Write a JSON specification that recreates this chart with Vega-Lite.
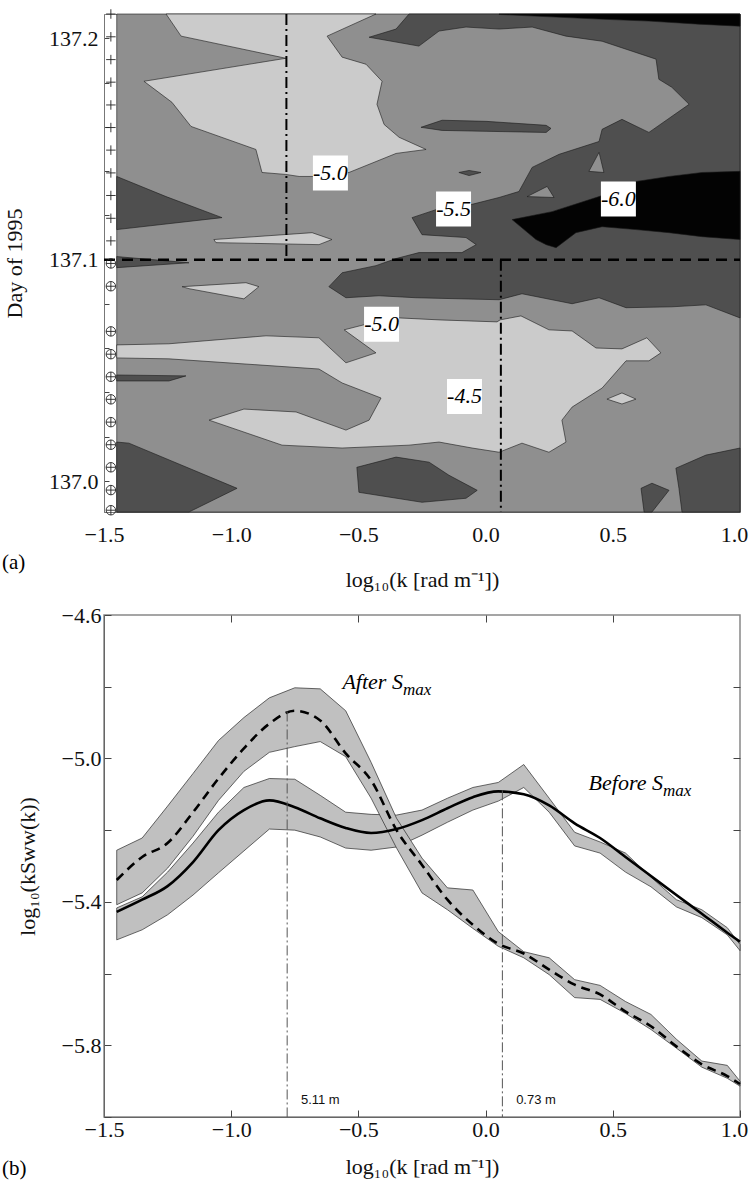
{
  "$schema": "https://vega.github.io/schema/vega-lite/v6.json",
  "padding": {"left": 1, "top": 6, "right": 0, "bottom": 0},
  "background": "white",
  "bounds": "flush",
  "spacing": 103,
  "config": {
    "font": "Liberation Serif",
    "view": {"stroke": null},
    "axis": {
      "labelFont": "Liberation Serif", "titleFont": "Liberation Serif",
      "labelFontSize": 22, "titleFontSize": 22, "labelColor": "#111", "titleColor": "#111",
      "titleFontWeight": "normal", "grid": false, "domainColor": "#666", "tickColor": "#444",
      "labelFlush": false, "labelOverlap": false
    }
  },
  "datasets": {
    "poly": [
      {"p":"B0","l":"base","i":0,"k":-1.45,"d":137.211},{"p":"B0","l":"base","i":1,"k":1.0,"d":137.211},{"p":"B0","l":"base","i":2,"k":1.0,"d":136.986},{"p":"B0","l":"base","i":3,"k":-1.45,"d":136.986},{"p":"B0","l":"base","i":4,"k":-1.45,"d":137.211},

      {"p":"D1","l":"dark","i":0,"k":-0.458,"d":137.2005},{"p":"D1","l":"dark","i":1,"k":-0.352,"d":137.2042},{"p":"D1","l":"dark","i":2,"k":-0.301,"d":137.211},{"p":"D1","l":"dark","i":3,"k":1.0,"d":137.211},{"p":"D1","l":"dark","i":4,"k":1.0,"d":137.0737},{"p":"D1","l":"dark","i":5,"k":0.866,"d":137.0796},{"p":"D1","l":"dark","i":6,"k":0.732,"d":137.0787},{"p":"D1","l":"dark","i":7,"k":0.552,"d":137.0783},{"p":"D1","l":"dark","i":8,"k":0.446,"d":137.0828},{"p":"D1","l":"dark","i":9,"k":0.340,"d":137.0801},{"p":"D1","l":"dark","i":10,"k":0.143,"d":137.0846},{"p":"D1","l":"dark","i":11,"k":0.053,"d":137.0819},{"p":"D1","l":"dark","i":12,"k":-0.274,"d":137.0828},{"p":"D1","l":"dark","i":13,"k":-0.419,"d":137.0837},{"p":"D1","l":"dark","i":14,"k":-0.549,"d":137.0828},{"p":"D1","l":"dark","i":15,"k":-0.616,"d":137.0878},{"p":"D1","l":"dark","i":16,"k":-0.564,"d":137.0941},{"p":"D1","l":"dark","i":17,"k":-0.431,"d":137.0973},{"p":"D1","l":"dark","i":18,"k":-0.352,"d":137.1005},{"p":"D1","l":"dark","i":19,"k":-0.262,"d":137.1032},{"p":"D1","l":"dark","i":20,"k":-0.093,"d":137.1032},{"p":"D1","l":"dark","i":21,"k":-0.037,"d":137.1068},{"p":"D1","l":"dark","i":22,"k":-0.077,"d":137.1100},{"p":"D1","l":"dark","i":23,"k":-0.250,"d":137.1113},{"p":"D1","l":"dark","i":24,"k":-0.289,"d":137.1190},{"p":"D1","l":"dark","i":25,"k":-0.195,"d":137.1226},{"p":"D1","l":"dark","i":26,"k":-0.057,"d":137.1249},{"p":"D1","l":"dark","i":27,"k":0.053,"d":137.1281},{"p":"D1","l":"dark","i":28,"k":0.131,"d":137.1308},{"p":"D1","l":"dark","i":29,"k":0.183,"d":137.1417},{"p":"D1","l":"dark","i":30,"k":0.289,"d":137.1476},{"p":"D1","l":"dark","i":31,"k":0.446,"d":137.1534},{"p":"D1","l":"dark","i":32,"k":0.458,"d":137.1589},{"p":"D1","l":"dark","i":33,"k":0.536,"d":137.1634},{"p":"D1","l":"dark","i":34,"k":0.642,"d":137.1575},{"p":"D1","l":"dark","i":35,"k":0.800,"d":137.1702},{"p":"D1","l":"dark","i":36,"k":0.732,"d":137.1779},{"p":"D1","l":"dark","i":37,"k":0.681,"d":137.1815},{"p":"D1","l":"dark","i":38,"k":0.670,"d":137.1906},{"p":"D1","l":"dark","i":39,"k":0.458,"d":137.1987},{"p":"D1","l":"dark","i":40,"k":0.316,"d":137.2010},{"p":"D1","l":"dark","i":41,"k":0.183,"d":137.2051},{"p":"D1","l":"dark","i":42,"k":0.053,"d":137.2042},{"p":"D1","l":"dark","i":43,"k":-0.077,"d":137.2051},{"p":"D1","l":"dark","i":44,"k":-0.183,"d":137.2033},{"p":"D1","l":"dark","i":45,"k":-0.262,"d":137.1965},{"p":"D1","l":"dark","i":46,"k":-0.458,"d":137.2005},

      {"p":"DS","l":"dark","i":0,"k":-0.254,"d":137.1598},{"p":"DS","l":"dark","i":1,"k":-0.171,"d":137.1630},{"p":"DS","l":"dark","i":2,"k":0.002,"d":137.1625},{"p":"DS","l":"dark","i":3,"k":0.238,"d":137.1607},{"p":"DS","l":"dark","i":4,"k":0.257,"d":137.1593},{"p":"DS","l":"dark","i":5,"k":0.238,"d":137.1575},{"p":"DS","l":"dark","i":6,"k":0.002,"d":137.1580},{"p":"DS","l":"dark","i":7,"k":-0.171,"d":137.1584},{"p":"DS","l":"dark","i":8,"k":-0.254,"d":137.1598},

      {"p":"DD","l":"dark","i":0,"k":-0.105,"d":137.1394},{"p":"DD","l":"dark","i":1,"k":-0.065,"d":137.1403},{"p":"DD","l":"dark","i":2,"k":-0.018,"d":137.1394},{"p":"DD","l":"dark","i":3,"k":-0.065,"d":137.1380},{"p":"DD","l":"dark","i":4,"k":-0.105,"d":137.1394},

      {"p":"W1","l":"dark","i":0,"k":-1.45,"d":137.1376},{"p":"W1","l":"dark","i":1,"k":-1.256,"d":137.1285},{"p":"W1","l":"dark","i":2,"k":-1.036,"d":137.1190},{"p":"W1","l":"dark","i":3,"k":-1.45,"d":137.1136},{"p":"W1","l":"dark","i":4,"k":-1.45,"d":137.1376},

      {"p":"S1","l":"dark","i":0,"k":-1.45,"d":137.1014},{"p":"S1","l":"dark","i":1,"k":-1.166,"d":137.0986},{"p":"S1","l":"dark","i":2,"k":-1.45,"d":137.0964},{"p":"S1","l":"dark","i":3,"k":-1.45,"d":137.1014},

      {"p":"S2","l":"dark","i":0,"k":-1.45,"d":137.0479},{"p":"S2","l":"dark","i":1,"k":-1.178,"d":137.0475},{"p":"S2","l":"dark","i":2,"k":-1.245,"d":137.0452},{"p":"S2","l":"dark","i":3,"k":-1.45,"d":137.0452},{"p":"S2","l":"dark","i":4,"k":-1.45,"d":137.0479},

      {"p":"DBL","l":"dark","i":0,"k":-1.45,"d":137.0176},{"p":"DBL","l":"dark","i":1,"k":-1.402,"d":137.0171},{"p":"DBL","l":"dark","i":2,"k":-0.977,"d":136.9967},{"p":"DBL","l":"dark","i":3,"k":-1.166,"d":136.986},{"p":"DBL","l":"dark","i":4,"k":-1.45,"d":136.986},{"p":"DBL","l":"dark","i":5,"k":-1.45,"d":137.0176},

      {"p":"DB","l":"dark","i":0,"k":-0.506,"d":137.0062},{"p":"DB","l":"dark","i":1,"k":-0.352,"d":137.0108},{"p":"DB","l":"dark","i":2,"k":-0.222,"d":137.0085},{"p":"DB","l":"dark","i":3,"k":-0.144,"d":137.0026},{"p":"DB","l":"dark","i":4,"k":-0.033,"d":136.9958},{"p":"DB","l":"dark","i":5,"k":-0.077,"d":136.9922},{"p":"DB","l":"dark","i":6,"k":-0.250,"d":136.9904},{"p":"DB","l":"dark","i":7,"k":-0.498,"d":136.9949},{"p":"DB","l":"dark","i":8,"k":-0.506,"d":137.0062},

      {"p":"DBR","l":"dark","i":0,"k":0.748,"d":137.0058},{"p":"DBR","l":"dark","i":1,"k":0.866,"d":137.0117},{"p":"DBR","l":"dark","i":2,"k":1.0,"d":137.0149},{"p":"DBR","l":"dark","i":3,"k":1.0,"d":136.986},{"p":"DBR","l":"dark","i":4,"k":0.772,"d":136.986},{"p":"DBR","l":"dark","i":5,"k":0.760,"d":136.9967},{"p":"DBR","l":"dark","i":6,"k":0.748,"d":137.0058},

      {"p":"DST","l":"dark","i":0,"k":0.611,"d":136.9967},{"p":"DST","l":"dark","i":1,"k":0.654,"d":136.9990},{"p":"DST","l":"dark","i":2,"k":0.721,"d":136.9958},{"p":"DST","l":"dark","i":3,"k":0.654,"d":136.986},{"p":"DST","l":"dark","i":4,"k":0.623,"d":136.986},{"p":"DST","l":"dark","i":5,"k":0.611,"d":136.9967},

      {"p":"K1","l":"black","i":0,"k":0.053,"d":137.211},{"p":"K1","l":"black","i":1,"k":1.0,"d":137.211},{"p":"K1","l":"black","i":2,"k":1.0,"d":137.2055},{"p":"K1","l":"black","i":3,"k":0.839,"d":137.2064},{"p":"K1","l":"black","i":4,"k":0.642,"d":137.2078},{"p":"K1","l":"black","i":5,"k":0.446,"d":137.2087},{"p":"K1","l":"black","i":6,"k":0.053,"d":137.2108},{"p":"K1","l":"black","i":7,"k":0.053,"d":137.211},

      {"p":"K2","l":"black","i":0,"k":0.104,"d":137.1181},{"p":"K2","l":"black","i":1,"k":0.261,"d":137.1217},{"p":"K2","l":"black","i":2,"k":0.446,"d":137.1285},{"p":"K2","l":"black","i":3,"k":0.591,"d":137.1353},{"p":"K2","l":"black","i":4,"k":0.721,"d":137.1376},{"p":"K2","l":"black","i":5,"k":0.851,"d":137.1394},{"p":"K2","l":"black","i":6,"k":1.0,"d":137.1399},{"p":"K2","l":"black","i":7,"k":1.0,"d":137.1091},{"p":"K2","l":"black","i":8,"k":0.851,"d":137.1104},{"p":"K2","l":"black","i":9,"k":0.721,"d":137.1122},{"p":"K2","l":"black","i":10,"k":0.591,"d":137.1136},{"p":"K2","l":"black","i":11,"k":0.458,"d":137.1149},{"p":"K2","l":"black","i":12,"k":0.355,"d":137.1122},{"p":"K2","l":"black","i":13,"k":0.277,"d":137.1054},{"p":"K2","l":"black","i":14,"k":0.238,"d":137.1068},{"p":"K2","l":"black","i":15,"k":0.198,"d":137.1091},{"p":"K2","l":"black","i":16,"k":0.104,"d":137.1181},

      {"p":"T1","l":"midp","i":0,"k":0.406,"d":137.1399},{"p":"T1","l":"midp","i":1,"k":0.446,"d":137.1485},{"p":"T1","l":"midp","i":2,"k":0.465,"d":137.1394},{"p":"T1","l":"midp","i":3,"k":0.406,"d":137.1399},
      {"p":"T2","l":"midp","i":0,"k":0.163,"d":137.1285},{"p":"T2","l":"midp","i":1,"k":0.242,"d":137.1331},{"p":"T2","l":"midp","i":2,"k":0.269,"d":137.1281},{"p":"T2","l":"midp","i":3,"k":0.163,"d":137.1285},

      {"p":"L1","l":"light","i":0,"k":-1.256,"d":137.211},{"p":"L1","l":"light","i":1,"k":-0.431,"d":137.211},{"p":"L1","l":"light","i":2,"k":-0.623,"d":137.2010},{"p":"L1","l":"light","i":3,"k":-0.564,"d":137.1915},{"p":"L1","l":"light","i":4,"k":-0.470,"d":137.1883},{"p":"L1","l":"light","i":5,"k":-0.407,"d":137.1806},{"p":"L1","l":"light","i":6,"k":-0.427,"d":137.1702},{"p":"L1","l":"light","i":7,"k":-0.399,"d":137.1611},{"p":"L1","l":"light","i":8,"k":-0.340,"d":137.1553},{"p":"L1","l":"light","i":9,"k":-0.234,"d":137.1498},{"p":"L1","l":"light","i":10,"k":-0.352,"d":137.1480},{"p":"L1","l":"light","i":11,"k":-0.537,"d":137.1394},{"p":"L1","l":"light","i":12,"k":-0.674,"d":137.1376},{"p":"L1","l":"light","i":13,"k":-0.733,"d":137.1376},{"p":"L1","l":"light","i":14,"k":-0.785,"d":137.1385},{"p":"L1","l":"light","i":15,"k":-0.879,"d":137.1394},{"p":"L1","l":"light","i":16,"k":-0.903,"d":137.1498},{"p":"L1","l":"light","i":17,"k":-1.158,"d":137.1602},{"p":"L1","l":"light","i":18,"k":-1.233,"d":137.1711},{"p":"L1","l":"light","i":19,"k":-1.343,"d":137.1806},{"p":"L1","l":"light","i":20,"k":-0.785,"d":137.1910},{"p":"L1","l":"light","i":21,"k":-1.197,"d":137.2010},{"p":"L1","l":"light","i":22,"k":-1.256,"d":137.211},

      {"p":"LA","l":"light","i":0,"k":-1.068,"d":137.1091},{"p":"LA","l":"light","i":1,"k":-0.682,"d":137.1122},{"p":"LA","l":"light","i":2,"k":-0.604,"d":137.1091},{"p":"LA","l":"light","i":3,"k":-0.655,"d":137.1068},{"p":"LA","l":"light","i":4,"k":-1.060,"d":137.1077},{"p":"LA","l":"light","i":5,"k":-1.068,"d":137.1091},

      {"p":"LB","l":"light","i":0,"k":-1.193,"d":137.0878},{"p":"LB","l":"light","i":1,"k":-0.942,"d":137.0896},{"p":"LB","l":"light","i":2,"k":-0.891,"d":137.0878},{"p":"LB","l":"light","i":3,"k":-0.950,"d":137.0823},{"p":"LB","l":"light","i":4,"k":-1.166,"d":137.0869},{"p":"LB","l":"light","i":5,"k":-1.193,"d":137.0878},

      {"p":"L2","l":"light","i":0,"k":-1.45,"d":137.0615},{"p":"L2","l":"light","i":1,"k":-1.245,"d":137.0620},{"p":"L2","l":"light","i":2,"k":-0.863,"d":137.0656},{"p":"L2","l":"light","i":3,"k":-0.655,"d":137.0647},{"p":"L2","l":"light","i":4,"k":-0.549,"d":137.0534},{"p":"L2","l":"light","i":5,"k":-0.431,"d":137.0579},{"p":"L2","l":"light","i":6,"k":-0.556,"d":137.0683},{"p":"L2","l":"light","i":7,"k":-0.478,"d":137.0706},{"p":"L2","l":"light","i":8,"k":-0.340,"d":137.0737},{"p":"L2","l":"light","i":9,"k":-0.183,"d":137.0728},{"p":"L2","l":"light","i":10,"k":0.045,"d":137.0719},{"p":"L2","l":"light","i":11,"k":0.057,"d":137.0728},{"p":"L2","l":"light","i":12,"k":0.139,"d":137.0746},{"p":"L2","l":"light","i":13,"k":0.249,"d":137.0683},{"p":"L2","l":"light","i":14,"k":0.340,"d":137.0678},{"p":"L2","l":"light","i":15,"k":0.434,"d":137.0601},{"p":"L2","l":"light","i":16,"k":0.536,"d":137.0597},{"p":"L2","l":"light","i":17,"k":0.634,"d":137.0647},{"p":"L2","l":"light","i":18,"k":0.689,"d":137.0579},{"p":"L2","l":"light","i":19,"k":0.642,"d":137.0543},{"p":"L2","l":"light","i":20,"k":0.552,"d":137.0543},{"p":"L2","l":"light","i":21,"k":0.458,"d":137.0420},{"p":"L2","l":"light","i":22,"k":0.340,"d":137.0334},{"p":"L2","l":"light","i":23,"k":0.300,"d":137.0275},{"p":"L2","l":"light","i":24,"k":0.316,"d":137.0176},{"p":"L2","l":"light","i":25,"k":0.249,"d":137.0130},{"p":"L2","l":"light","i":26,"k":0.143,"d":137.0171},{"p":"L2","l":"light","i":27,"k":0.053,"d":137.0130},{"p":"L2","l":"light","i":28,"k":-0.053,"d":137.0149},{"p":"L2","l":"light","i":29,"k":-0.183,"d":137.0176},{"p":"L2","l":"light","i":30,"k":-0.301,"d":137.0162},{"p":"L2","l":"light","i":31,"k":-0.564,"d":137.0149},{"p":"L2","l":"light","i":32,"k":-0.800,"d":137.0162},{"p":"L2","l":"light","i":33,"k":-1.087,"d":137.0275},{"p":"L2","l":"light","i":34,"k":-0.950,"d":137.0325},{"p":"L2","l":"light","i":35,"k":-0.745,"d":137.0312},{"p":"L2","l":"light","i":36,"k":-0.549,"d":137.0230},{"p":"L2","l":"light","i":37,"k":-0.458,"d":137.0275},{"p":"L2","l":"light","i":38,"k":-0.411,"d":137.0375},{"p":"L2","l":"light","i":39,"k":-0.564,"d":137.0443},{"p":"L2","l":"light","i":40,"k":-0.655,"d":137.0506},{"p":"L2","l":"light","i":41,"k":-1.245,"d":137.0552},{"p":"L2","l":"light","i":42,"k":-1.45,"d":137.0556},{"p":"L2","l":"light","i":43,"k":-1.45,"d":137.0615},

      {"p":"LD","l":"light","i":0,"k":0.477,"d":137.0370},{"p":"LD","l":"light","i":1,"k":0.536,"d":137.0398},{"p":"LD","l":"light","i":2,"k":0.591,"d":137.0370},{"p":"LD","l":"light","i":3,"k":0.536,"d":137.0348},{"p":"LD","l":"light","i":4,"k":0.477,"d":137.0370}
    ],
    "guides": [
      {"g":"h","k1":-1.5,"k2":1.0,"d1":137.1,"d2":137.1},
      {"g":"v","k1":-0.783,"k2":-0.783,"d1":137.211,"d2":137.1},
      {"g":"v","k1":0.06,"k2":0.06,"d1":137.1,"d2":136.986}
    ],
    "samples": [
      {"d":137.2110,"m":"plus"},{"d":137.2007,"m":"plus"},{"d":137.1904,"m":"plus"},{"d":137.1802,"m":"plus"},{"d":137.1699,"m":"plus"},{"d":137.1597,"m":"plus"},{"d":137.1495,"m":"plus"},{"d":137.1392,"m":"plus"},{"d":137.1290,"m":"plus"},{"d":137.1187,"m":"plus"},{"d":137.1085,"m":"plus"},
      {"d":137.0983,"m":"oplus"},{"d":137.0880,"m":"oplus"},{"d":137.0676,"m":"oplus"},{"d":137.0573,"m":"oplus"},{"d":137.0471,"m":"oplus"},{"d":137.0369,"m":"oplus"},{"d":137.0266,"m":"oplus"},{"d":137.0164,"m":"oplus"},{"d":137.0062,"m":"oplus"},{"d":136.9959,"m":"oplus"},{"d":136.9868,"m":"oplus"}
    ],
    "clabels": [
      {"k":-0.610,"d":137.1392,"t":"-5.0"},
      {"k":-0.126,"d":137.1229,"t":"-5.5"},
      {"k":0.522,"d":137.1274,"t":"-6.0"},
      {"k":-0.409,"d":137.0708,"t":"-5.0"},
      {"k":-0.083,"d":137.0382,"t":"-4.5"}
    ],
    "spec": [
      {"k":-1.45,"a":-5.339,"alo":-5.408,"ahi":-5.256,"b":-5.428,"blo":-5.506,"bhi":-5.417},
      {"k":-1.35,"a":-5.275,"alo":-5.375,"ahi":-5.222,"b":-5.394,"blo":-5.478,"bhi":-5.386},
      {"k":-1.25,"a":-5.236,"alo":-5.306,"ahi":-5.133,"b":-5.356,"blo":-5.436,"bhi":-5.317},
      {"k":-1.15,"a":-5.150,"alo":-5.217,"ahi":-5.042,"b":-5.289,"blo":-5.381,"bhi":-5.236},
      {"k":-1.05,"a":-5.056,"alo":-5.117,"ahi":-4.950,"b":-5.200,"blo":-5.319,"bhi":-5.150},
      {"k":-0.95,"a":-4.972,"alo":-5.036,"ahi":-4.886,"b":-5.144,"blo":-5.258,"bhi":-5.081},
      {"k":-0.85,"a":-4.903,"alo":-4.983,"ahi":-4.831,"b":-5.117,"blo":-5.197,"bhi":-5.056},
      {"k":-0.75,"a":-4.867,"alo":-4.967,"ahi":-4.803,"b":-5.136,"blo":-5.200,"bhi":-5.058},
      {"k":-0.65,"a":-4.894,"alo":-4.953,"ahi":-4.806,"b":-5.167,"blo":-5.219,"bhi":-5.103},
      {"k":-0.55,"a":-4.986,"alo":-4.995,"ahi":-4.867,"b":-5.194,"blo":-5.250,"bhi":-5.150},
      {"k":-0.45,"a":-5.061,"alo":-5.111,"ahi":-5.011,"b":-5.208,"blo":-5.256,"bhi":-5.156},
      {"k":-0.35,"a":-5.200,"alo":-5.250,"ahi":-5.167,"b":-5.197,"blo":-5.247,"bhi":-5.158},
      {"k":-0.25,"a":-5.297,"alo":-5.375,"ahi":-5.278,"b":-5.172,"blo":-5.214,"bhi":-5.144},
      {"k":-0.15,"a":-5.394,"alo":-5.422,"ahi":-5.361,"b":-5.139,"blo":-5.178,"bhi":-5.111},
      {"k":-0.05,"a":-5.464,"alo":-5.474,"ahi":-5.367,"b":-5.108,"blo":-5.144,"bhi":-5.081},
      {"k":0.05,"a":-5.517,"alo":-5.524,"ahi":-5.483,"b":-5.092,"blo":-5.119,"bhi":-5.067},
      {"k":0.15,"a":-5.544,"alo":-5.556,"ahi":-5.539,"b":-5.100,"blo":-5.081,"bhi":-5.017},
      {"k":0.25,"a":-5.589,"alo":-5.603,"ahi":-5.556,"b":-5.131,"blo":-5.150,"bhi":-5.111},
      {"k":0.35,"a":-5.631,"alo":-5.667,"ahi":-5.617,"b":-5.181,"blo":-5.244,"bhi":-5.206},
      {"k":0.45,"a":-5.658,"alo":-5.672,"ahi":-5.633,"b":-5.222,"blo":-5.264,"bhi":-5.233},
      {"k":0.55,"a":-5.706,"alo":-5.711,"ahi":-5.678,"b":-5.275,"blo":-5.317,"bhi":-5.264},
      {"k":0.65,"a":-5.747,"alo":-5.756,"ahi":-5.714,"b":-5.328,"blo":-5.358,"bhi":-5.331},
      {"k":0.75,"a":-5.803,"alo":-5.808,"ahi":-5.783,"b":-5.381,"blo":-5.414,"bhi":-5.394},
      {"k":0.85,"a":-5.853,"alo":-5.861,"ahi":-5.844,"b":-5.433,"blo":-5.444,"bhi":-5.422},
      {"k":0.95,"a":-5.886,"alo":-5.892,"ahi":-5.856,"b":-5.486,"blo":-5.492,"bhi":-5.472},
      {"k":1.0,"a":-5.908,"alo":-5.914,"ahi":-5.900,"b":-5.511,"blo":-5.536,"bhi":-5.519}
    ],
    "peaks": [
      {"k":-0.78,"top":-4.869,"t":"5.11 m","tk":-0.726},
      {"k":0.066,"top":-5.089,"t":"0.73 m","tk":0.120}
    ],
    "ann": [
      {"k":-0.325,"v":-4.806,"main":"After S","sub":"max"},
      {"k":0.697,"v":-5.089,"main":"Before S","sub":"max"}
    ],
    "panelA": [{"k":-1.901,"d":136.963,"t":"(a)"}],
    "panelB": [{"k":-1.901,"v":-6.144,"t":"(b)"}]
  },
  "vconcat": [
    {
      "width": 636,
      "height": 498,
      "view": {"stroke": "#888", "strokeWidth": 1},
      "resolve": {"axis": {"x": "independent", "y": "independent"}},
      "layer": [
        {
          "data": {"name": "poly"},
          "transform": [{"filter": "datum.l === 'base'"}],
          "mark": {"type": "line", "filled": true, "fill": "#8f8f8f", "stroke": "#1a1a1a", "strokeWidth": 0.6},
          "encoding": {
            "x": {"field": "k", "type": "quantitative", "scale": {"domain": [-1.5, 1.0], "nice": false, "zero": false},
                  "axis": {"title": "log₁₀(k [rad m⁻¹])", "values": [-1.5, -1, -0.5, 0, 0.5, 1], "format": ".1f", "ticks": false, "labelPadding": 12, "titlePadding": 24, "domainColor": "#777",
                           "labelOffset": {"condition": {"test": "datum.value == 1", "value": -6}, "value": 0}}},
            "y": {"field": "d", "type": "quantitative", "scale": {"domain": [136.986, 137.211], "nice": false, "zero": false},
                  "axis": {"title": "Day of 1995", "values": [137.0, 137.02, 137.04, 137.06, 137.08, 137.1, 137.12, 137.14, 137.16, 137.18, 137.2],
                           "labelExpr": "round(datum.value*100) % 10 == 0 ? format(datum.value, '.1f') : ''",
                           "tickSize": -5, "labelPadding": 11, "titleX": -90, "titleBaseline": "middle", "domainColor": "#777"}},
            "detail": {"field": "p"},
            "order": {"field": "i", "type": "quantitative"}
          }
        },
        {
          "data": {"name": "poly"},
          "transform": [{"filter": "datum.l === 'dark'"}],
          "mark": {"type": "line", "filled": true, "fill": "#4f4f4f", "stroke": "#1a1a1a", "strokeWidth": 0.6},
          "encoding": {
            "x": {"field": "k", "type": "quantitative", "axis": null},
            "y": {"field": "d", "type": "quantitative", "axis": null},
            "detail": {"field": "p"},
            "order": {"field": "i", "type": "quantitative"}
          }
        },
        {
          "data": {"name": "poly"},
          "transform": [{"filter": "datum.l === 'black'"}],
          "mark": {"type": "line", "filled": true, "fill": "#030303", "stroke": "#1a1a1a", "strokeWidth": 0.6},
          "encoding": {
            "x": {"field": "k", "type": "quantitative", "axis": null},
            "y": {"field": "d", "type": "quantitative", "axis": null},
            "detail": {"field": "p"},
            "order": {"field": "i", "type": "quantitative"}
          }
        },
        {
          "data": {"name": "poly"},
          "transform": [{"filter": "datum.l === 'midp'"}],
          "mark": {"type": "line", "filled": true, "fill": "#8f8f8f", "stroke": "#1a1a1a", "strokeWidth": 0.6},
          "encoding": {
            "x": {"field": "k", "type": "quantitative", "axis": null},
            "y": {"field": "d", "type": "quantitative", "axis": null},
            "detail": {"field": "p"},
            "order": {"field": "i", "type": "quantitative"}
          }
        },
        {
          "data": {"name": "poly"},
          "transform": [{"filter": "datum.l === 'light'"}],
          "mark": {"type": "line", "filled": true, "fill": "#cbcbcb", "stroke": "#1a1a1a", "strokeWidth": 0.6},
          "encoding": {
            "x": {"field": "k", "type": "quantitative", "axis": null},
            "y": {"field": "d", "type": "quantitative", "axis": null},
            "detail": {"field": "p"},
            "order": {"field": "i", "type": "quantitative"}
          }
        },
        {
          "data": {"name": "guides"},
          "transform": [{"filter": "datum.g === 'h'"}],
          "mark": {"type": "rule", "stroke": "#000", "strokeWidth": 2.6, "strokeDash": [11, 7]},
          "encoding": {
            "x": {"field": "k1", "type": "quantitative", "axis": null},
            "x2": {"field": "k2"},
            "y": {"field": "d1", "type": "quantitative", "axis": null},
            "y2": {"field": "d2"}
          }
        },
        {
          "data": {"name": "guides"},
          "transform": [{"filter": "datum.g === 'v'"}],
          "mark": {"type": "rule", "stroke": "#000", "strokeWidth": 2, "strokeDash": [11, 4, 2, 4]},
          "encoding": {
            "x": {"field": "k1", "type": "quantitative", "axis": null},
            "x2": {"field": "k2"},
            "y": {"field": "d1", "type": "quantitative", "axis": null},
            "y2": {"field": "d2"}
          }
        },
        {
          "data": {"name": "samples"},
          "mark": {"type": "point", "filled": false, "stroke": "#222", "strokeWidth": 0.9, "size": 90, "opacity": 1},
          "encoding": {
            "x": {"datum": -1.473, "type": "quantitative", "axis": null},
            "y": {"field": "d", "type": "quantitative", "axis": null},
            "shape": {"field": "m", "type": "nominal", "legend": null,
                      "scale": {"domain": ["plus", "oplus"], "range": ["M-1,0L1,0M0,-1L0,1", "M-1,0A1,1 0 1,1 1,0A1,1 0 1,1 -1,0M-1,0L1,0M0,-1L0,1"]}}
          }
        },
        {
          "data": {"name": "clabels"},
          "mark": {"type": "point", "shape": "square", "filled": true, "fill": "white", "stroke": null, "size": 1225, "opacity": 1},
          "encoding": {
            "x": {"field": "k", "type": "quantitative", "axis": null},
            "y": {"field": "d", "type": "quantitative", "axis": null}
          }
        },
        {
          "data": {"name": "clabels"},
          "mark": {"type": "text", "font": "Liberation Serif", "fontStyle": "italic", "fontSize": 22, "color": "#000", "align": "center", "baseline": "middle"},
          "encoding": {
            "x": {"field": "k", "type": "quantitative", "axis": null},
            "y": {"field": "d", "type": "quantitative", "axis": null},
            "text": {"field": "t"}
          }
        },
        {
          "data": {"name": "panelA"},
          "mark": {"type": "text", "font": "Liberation Serif", "fontSize": 21, "color": "#000", "align": "left", "baseline": "middle"},
          "encoding": {
            "x": {"field": "k", "type": "quantitative", "axis": null},
            "y": {"field": "d", "type": "quantitative", "axis": null},
            "text": {"field": "t"}
          }
        }
      ]
    },
    {
      "width": 636,
      "height": 502,
      "view": {"stroke": "#888", "strokeWidth": 1.5},
      "resolve": {"axis": {"x": "independent", "y": "independent"}},
      "layer": [
        {
          "data": {"name": "spec"},
          "mark": {"type": "area", "fill": "#c0c0c0", "stroke": "#2a2a2a", "strokeWidth": 0.7},
          "encoding": {
            "x": {"field": "k", "type": "quantitative", "scale": {"domain": [-1.5, 1.0], "nice": false, "zero": false},
                  "axis": {"title": "log₁₀(k [rad m⁻¹])", "values": [-1.5, -1, -0.5, 0, 0.5, 1], "format": ".1f", "tickSize": -7, "labelPadding": 9, "titlePadding": 16,
                           "labelOffset": {"condition": {"test": "datum.value == 1", "value": -6}, "value": 0}}},
            "y": {"field": "blo", "type": "quantitative", "scale": {"domain": [-6.0, -4.6], "nice": false, "zero": false},
                  "axis": {"title": "log₁₀(kSww(k))", "values": [-6.0, -5.8, -5.6, -5.4, -5.2, -5.0, -4.8, -4.6],
                           "labelExpr": "round(datum.value*10) % 4 == 0 ? '' : format(datum.value, '.1f')",
                           "tickSize": -7, "labelPadding": 10, "titleX": -77, "titleBaseline": "middle"}},
            "y2": {"field": "bhi"}
          }
        },
        {
          "data": {"name": "spec"},
          "mark": {"type": "area", "fill": "#c0c0c0", "stroke": "#2a2a2a", "strokeWidth": 0.7},
          "encoding": {
            "x": {"field": "k", "type": "quantitative", "axis": null},
            "y": {"field": "alo", "type": "quantitative", "axis": null},
            "y2": {"field": "ahi"}
          }
        },
        {
          "data": {"name": "spec"},
          "mark": {"type": "line", "stroke": "#000", "strokeWidth": 2.6, "interpolate": "monotone"},
          "encoding": {
            "x": {"field": "k", "type": "quantitative", "axis": null},
            "y": {"field": "b", "type": "quantitative", "axis": null}
          }
        },
        {
          "data": {"name": "spec"},
          "mark": {"type": "line", "stroke": "#000", "strokeWidth": 2.6, "strokeDash": [9, 6], "interpolate": "monotone"},
          "encoding": {
            "x": {"field": "k", "type": "quantitative", "axis": null},
            "y": {"field": "a", "type": "quantitative", "axis": null}
          }
        },
        {
          "data": {"name": "peaks"},
          "mark": {"type": "rule", "stroke": "#555", "strokeWidth": 1, "strokeDash": [10, 3, 2, 3]},
          "encoding": {
            "x": {"field": "k", "type": "quantitative", "axis": null},
            "y": {"field": "top", "type": "quantitative", "axis": null},
            "y2": {"datum": -6.0}
          }
        },
        {
          "data": {"name": "peaks"},
          "mark": {"type": "text", "font": "Liberation Sans", "fontSize": 13, "color": "#111", "align": "left", "baseline": "alphabetic"},
          "encoding": {
            "x": {"field": "tk", "type": "quantitative", "axis": null},
            "y": {"datum": -5.963, "type": "quantitative", "axis": null},
            "text": {"field": "t"}
          }
        },
        {
          "data": {"name": "ann"},
          "mark": {"type": "text", "font": "Liberation Serif", "fontStyle": "italic", "fontSize": 22, "color": "#000", "align": "right", "baseline": "alphabetic"},
          "encoding": {
            "x": {"field": "k", "type": "quantitative", "axis": null},
            "y": {"field": "v", "type": "quantitative", "axis": null},
            "text": {"field": "main"}
          }
        },
        {
          "data": {"name": "ann"},
          "mark": {"type": "text", "font": "Liberation Serif", "fontStyle": "italic", "fontSize": 17, "color": "#000", "align": "left", "baseline": "alphabetic", "dy": 6},
          "encoding": {
            "x": {"field": "k", "type": "quantitative", "axis": null},
            "y": {"field": "v", "type": "quantitative", "axis": null},
            "text": {"field": "sub"}
          }
        },
        {
          "data": {"name": "panelB"},
          "mark": {"type": "text", "font": "Liberation Serif", "fontSize": 21, "color": "#000", "align": "left", "baseline": "middle"},
          "encoding": {
            "x": {"field": "k", "type": "quantitative", "axis": null},
            "y": {"field": "v", "type": "quantitative", "axis": null},
            "text": {"field": "t"}
          }
        },
        {
          "data": {"name": "spec"},
          "mark": {"type": "point", "opacity": 0},
          "encoding": {
            "x": {"field": "k", "type": "quantitative",
                  "axis": {"orient": "top", "labels": false, "title": null, "domain": false, "tickSize": -7, "values": [-1, -0.5, 0, 0.5]}},
            "y": {"field": "a", "type": "quantitative",
                  "axis": {"orient": "right", "labels": false, "title": null, "domain": false, "tickSize": -7, "values": [-5.8, -5.6, -5.4, -5.2, -5.0, -4.8]}}
          }
        }
      ]
    }
  ]
}
